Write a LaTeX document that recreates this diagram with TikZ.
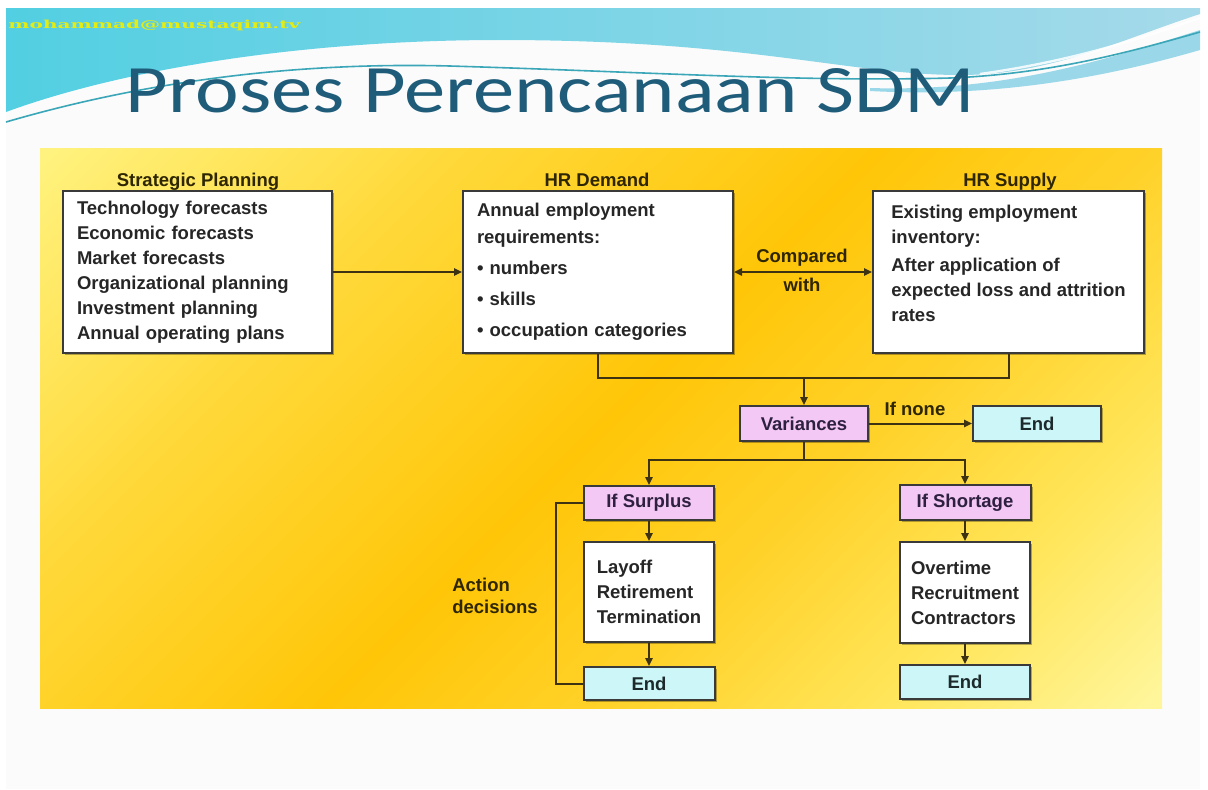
\documentclass[tikz,border=0pt]{standalone}
\usepackage{fontspec}
\setmainfont{Liberation Sans}
\newfontfamily\titlefont{Carlito}
\newfontfamily\mailfont{DejaVu Serif}
\usetikzlibrary{arrows.meta,shadows}
\definecolor{gA}{HTML}{FFF27E}
\definecolor{gB}{HTML}{FFD93A}
\definecolor{gC}{HTML}{FFC608}
\definecolor{gE}{HTML}{FFD22A}
\definecolor{gF}{HTML}{FFE65C}
\definecolor{gD}{HTML}{FFF69C}
\definecolor{bannerL}{HTML}{52CFE2}
\definecolor{bannerR}{HTML}{A6DAEA}
\definecolor{tealline}{HTML}{3AA6B8}
\definecolor{titlecol}{HTML}{1F5C7A}
\definecolor{mailcol}{HTML}{E4EC10}
\definecolor{slidebg}{HTML}{FBFBFB}
\definecolor{bordergray}{HTML}{3A3A3A}
\definecolor{boxtext}{HTML}{262626}
\definecolor{labtext}{HTML}{2E2600}
\definecolor{linecol}{HTML}{3D3212}
\definecolor{pinkfill}{HTML}{F4C8F4}
\definecolor{cyanfill}{HTML}{CCF6F8}
\definecolor{pinktext}{HTML}{2E2040}
\definecolor{cyantext}{HTML}{1C2A2C}
\pgfdeclarehorizontalshading{goldshade}{100bp}{color(0bp)=(gA); color(15bp)=(gA); color(32bp)=(gB); color(50bp)=(gC); color(62bp)=(gE); color(74bp)=(gF); color(85bp)=(gD); color(100bp)=(gD)}
\begin{document}
\begin{tikzpicture}[x=0.5pt,y=-0.5pt,
  base/.style={font=\bfseries\fontsize{9.25}{12.5}\selectfont},
  box/.style={base, draw=bordergray, line width=1pt, fill=white, text=boxtext,
    drop shadow={shadow xshift=1.2pt,shadow yshift=-1.2pt,opacity=0.3,fill=black},
    inner sep=0pt},
  pinkbox/.style={box, fill=pinkfill, text=pinktext},
  cyanbox/.style={box, fill=cyanfill, text=cyantext},
  lab/.style={base, text=labtext, inner sep=1pt},
  conn/.style={draw=linecol, line width=1pt},
  arr/.style={conn, -{Triangle[length=4pt,width=3.6pt]}},
]
\useasboundingbox (0,0) rectangle (1208,789);
\fill[white] (0,0) rectangle (1208,789);
\fill[slidebg] (6,8) rectangle (1200,789);
% banner
\shade[left color=bannerL, right color=bannerR] (6,8) -- (1200,8) -- (1200,14)
  .. controls (1120,40) and (1050,75) .. (960,75)
  .. controls (850,75) and (750,40) .. (500,40)
  .. controls (300,40) and (120,70) .. (6,112) -- cycle;
\fill[bannerR!85!bannerL] (870,88) .. controls (1000,92) and (1100,62) .. (1200,30)
  -- (1200,50) .. controls (1110,76) and (1000,98) .. (870,91) -- cycle;
\draw[white, line width=1.2pt, opacity=0.85] (980,74) .. controls (1080,60) and (1150,35) .. (1200,18);
\draw[tealline, line width=0.8pt] (6,122) .. controls (150,80) and (300,62) .. (450,66)
  .. controls (650,72) and (800,82) .. (950,78) .. controls (1050,74) and (1130,52) .. (1200,32);
\node[anchor=base west, inner sep=0pt, text=mailcol] (mail) at (8,28)
  {\resizebox{146pt}{4.2pt}{\mailfont\bfseries mohammad@mustaqim.tv}};
\node[anchor=base west, inner sep=0pt, text=titlecol] (title) at (125,112)
  {\resizebox{425pt}{22pt}{\titlefont Proses Perencanaan SDM}};
% yellow panel
\fill[shading=goldshade, shading angle=-45] (40,148) rectangle (1162,708);
% box titles
\node[lab, anchor=base] (tsp) at (198,186) {Strategic Planning};
\node[lab, anchor=base] (thd) at (597,186) {HR Demand};
\node[lab, anchor=base] (ths) at (1010,186) {HR Supply};
% top boxes
\node[box, minimum width=134.5pt, minimum height=81pt, text width=120.5pt, align=left, inner xsep=7pt]
  (sp) at (197.5,272) {Technology forecasts\\Economic forecasts\\Market forecasts\\Organizational planning\\Investment planning\\Annual operating plans};
\node[box, minimum width=135pt, minimum height=81pt, text width=121pt, align=left, inner xsep=7pt]
  (hrd) at (598,272) {Annual employment\\[1pt]requirements:\\[3pt]• numbers\\[3pt]• skills\\[3pt]• occupation categories};
\node[box, minimum width=135.5pt, minimum height=81pt, align=left]
  (hrs) at (1008.5,272) {Existing employment\\inventory:\\[1.5pt]After application of\\expected loss and attrition\\rates\\[-4pt]\mbox{}};
% variances
\node[pinkbox, minimum width=64pt, minimum height=17.5pt] (var) at (804,423.5) {Variances};
\node[cyanbox, minimum width=64pt, minimum height=17.5pt] (end1) at (1037,423.5) {End};
% surplus column
\node[pinkbox, minimum width=65pt, minimum height=17pt] (sur) at (649,503) {If Surplus};
\node[box, minimum width=65pt, minimum height=50pt, align=left] (lay) at (649,592) {Layoff\\Retirement\\Termination};
\node[cyanbox, minimum width=65.5pt, minimum height=16.5pt] (end2) at (649,683.5) {End};
% shortage column
\node[pinkbox, minimum width=65.5pt, minimum height=17.5pt] (sho) at (965,502.5) {If Shortage};
\node[box, minimum width=65pt, minimum height=50.5pt, align=left] (ovt) at (965,592.5) {Overtime\\Recruitment\\Contractors};
\node[cyanbox, minimum width=65pt, minimum height=17pt] (end3) at (965,682) {End};
% labels
\node[lab, align=center, font=\bfseries\fontsize{9.25}{14.5}\selectfont] (cmp) at (802,270.5) {Compared\\with};
\node[lab] (ifn) at (915,409) {If none};
\node[lab, align=left, font=\bfseries\fontsize{9.25}{11}\selectfont] (act) at (495,596) {Action\\decisions};
% connectors
\coordinate (jn) at (804,378);
\coordinate (sp2) at (804,460);
\coordinate (fb) at (556,503);
\draw[arr] (sp) -- (hrd);
\draw[conn, {Triangle[length=4pt,width=3.6pt]}-{Triangle[length=4pt,width=3.6pt]}] (hrd.east) -- (hrs.west);
\draw[conn] (hrd.south) |- (jn) -| (hrs.south);
\draw[arr] (jn) -- (var.north);
\draw[arr] (var.east) -- (end1.west);
\draw[conn] (var.south) -- (sp2);
\draw[arr] (sp2) -| (sur.north);
\draw[arr] (sp2) -| (sho.north);
\draw[arr] (sur) -- (lay);
\draw[arr] (lay) -- (end2);
\draw[arr] (sho) -- (ovt);
\draw[arr] (ovt) -- (end3);
\draw[conn] (sur.west) -- (fb) |- (end2.west);
\end{tikzpicture}
\end{document}
